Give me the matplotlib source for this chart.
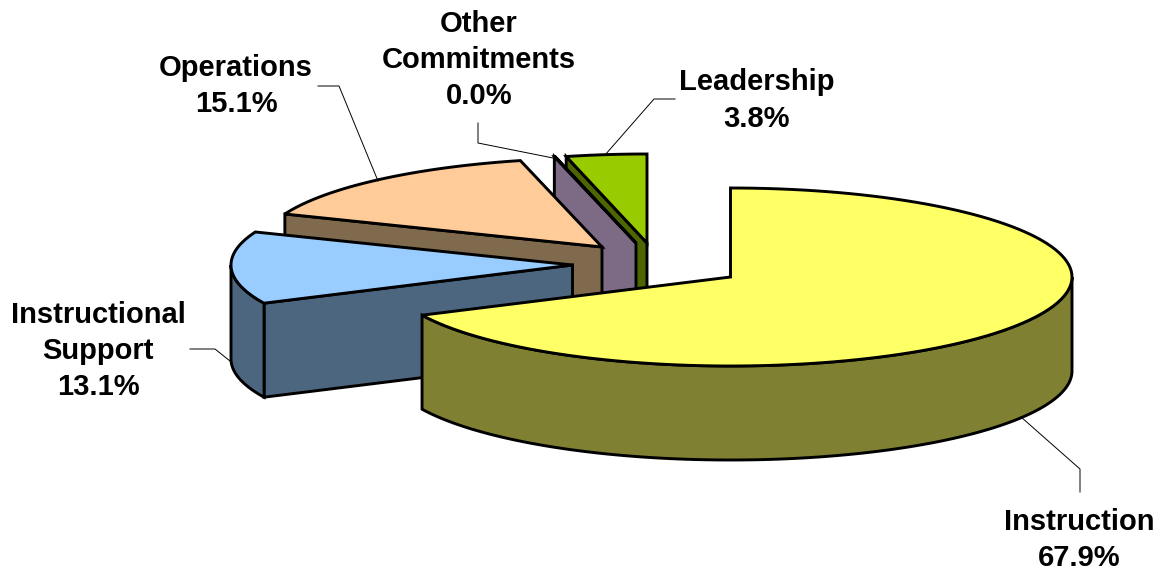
import numpy as np
import matplotlib
matplotlib.use("Agg")
import matplotlib.pyplot as plt
from matplotlib.patches import Polygon

# values, clockwise from 12 o'clock
categories = ["Instruction", "Instructional\nSupport", "Operations", "Other\nCommitments", "Leadership"]
shares = [67.9, 13.1, 15.1, 0.04, 3.8]
labels_pct = ["67.9%", "13.1%", "15.1%", "0.0%", "3.8%"]

top_colors = ["#FFFF66", "#99CCFF", "#FFCC99", "#7D6A85", "#99CC00"]
side_colors = ["#808033", "#4D667F", "#806A4D", "#7D6A85", "#4D6600"]

# exploded slice apexes and pie shape, in pixels
apexes = [(730.5, 277), (572.5, 265), (602, 247), (636, 243), (647, 243)]
rx, ry, depth = 341.5, 89, 94

label_pos = [(1079, 540), (98, 351), (236, 86), (479, 60), (757, 100.5)]
leaders = [
    [(1021, 417), (1080, 469), (1080, 492)],
    [(190, 349), (215, 349), (230, 361)],
    [(318, 86), (339, 86), (378, 181)],
    [(478, 123), (478, 143), (553, 158)],
    [(675, 99), (654, 99), (605, 155)],
]

plt.rcParams["font.family"] = ["Liberation Sans", "DejaVu Sans"]

fig = plt.figure(figsize=(11.61, 5.73), dpi=100)
ax = fig.add_axes([0, 0, 1, 1])
ax.set_xlim(0, 1161)
ax.set_ylim(573, 0)
ax.axis("off")


def rim(cx, cy, a, b, dy=0):
    t = np.radians(np.linspace(a, b, 120))
    return np.column_stack([cx + rx * np.sin(t), cy + dy - ry * np.cos(t)])


edges = np.concatenate([[0], np.cumsum(shares)]) / sum(shares) * 360
line = dict(edgecolor="black", linewidth=2.1, joinstyle="miter")

# far slices first so the near ones paint over them
for i in reversed(range(len(shares))):
    a, b = edges[i], edges[i + 1]
    cx, cy = apexes[i]
    start = rim(cx, cy, a, a + 1e-6)[0]
    # cut wall on the start side
    wall = [(cx, cy), tuple(start), (start[0], start[1] + depth), (cx, cy + depth)]
    ax.add_patch(Polygon(wall, closed=True, facecolor=side_colors[i], **line))
    # outer rim, only the front half shows
    lo, hi = max(a, 90), min(b, 270)
    if lo < hi:
        front = np.vstack([rim(cx, cy, lo, hi), rim(cx, cy, hi, lo, depth)])
        ax.add_patch(Polygon(front, closed=True, facecolor=side_colors[i], **line))
    top = np.vstack([[(cx, cy)], rim(cx, cy, a, b)])
    ax.add_patch(Polygon(top, closed=True, facecolor=top_colors[i], **line))

for pts in leaders:
    xs, ys = zip(*pts)
    ax.plot(xs, ys, color="black", lw=0.7, zorder=5)

for name, pct, (x, y) in zip(categories, labels_pct, label_pos):
    ax.text(x, y, name + "\n" + pct, ha="center", va="center", fontsize=21,
            fontweight="bold", color="black", linespacing=1.37, zorder=6)

fig.savefig("out.png", dpi=100)
